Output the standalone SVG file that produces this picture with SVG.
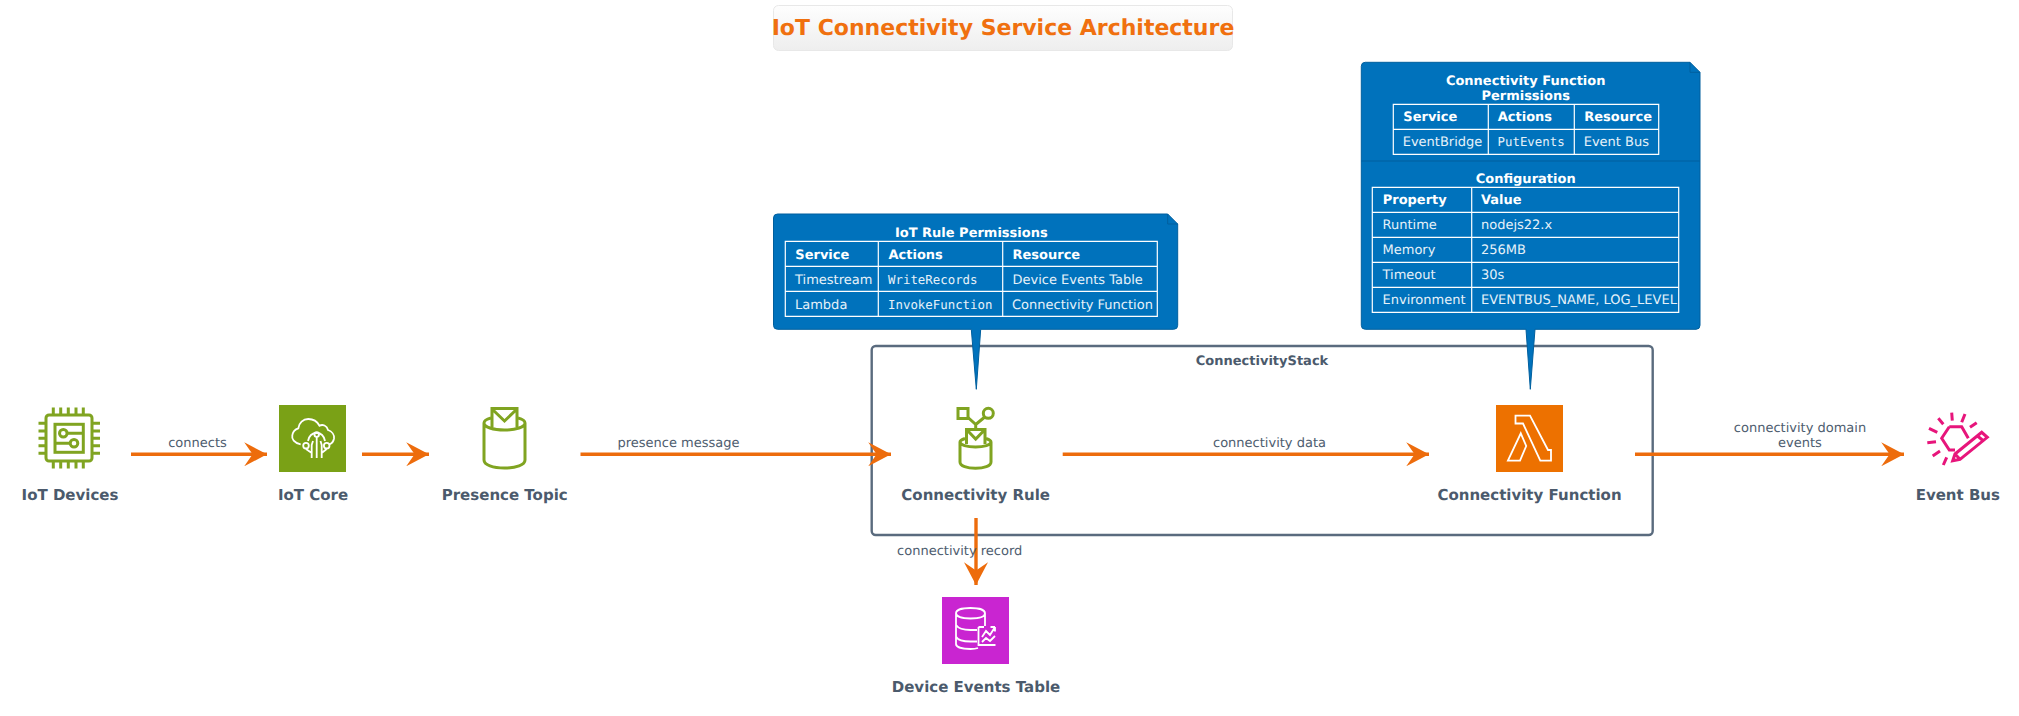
<svg xmlns="http://www.w3.org/2000/svg" width="2019" height="716" viewBox="0 0 2019 716">
<style>
text{font-family:"DejaVu Sans","Liberation Sans",sans-serif;text-rendering:geometricPrecision}
.lbl{font-size:15px;font-weight:700;fill:#4b5a6c;text-anchor:middle}
.edge{font-size:13px;fill:#4e5d6f;text-anchor:middle}
.cn{font-size:13px;font-weight:700;fill:#4b5a6c;text-anchor:middle}
.line{stroke:#ED6C0C;stroke-width:3.4;fill:none}
.note{fill:#0072BC;stroke:#005f9e;stroke-width:1}
.grid{fill:none;stroke:#fff;stroke-width:1.2}
.nt{font-size:13px;font-weight:700;fill:#fff;text-anchor:middle}
.th{font-size:13px;font-weight:700;fill:#fff}
.td{font-size:13px;fill:#e6f1f9}
.mono{font-family:"DejaVu Sans Mono","Liberation Mono",monospace;font-size:12.4px;fill:#e6f1f9}
.ig{fill:none;stroke:#80A421;stroke-width:3}
.iw{fill:none;stroke:#fff;stroke-width:1.8}
.ip{fill:none;stroke:#E7157B;stroke-width:3}
</style>
<defs>
<linearGradient id="tg" x1="0" y1="0" x2="0" y2="1"><stop offset="0" stop-color="#fefefe"/><stop offset="1" stop-color="#eeeeee"/></linearGradient>
<marker id="ah" markerUnits="userSpaceOnUse" markerWidth="24" markerHeight="24" refX="19" refY="10" orient="auto" viewBox="0 0 20 20"><path d="M0 0 L19 10 L0 20 L7 10 Z" fill="#ED6C0C"/></marker>
</defs>
<g id="title">
<rect x="773.5" y="5.5" width="459" height="45" rx="5" fill="url(#tg)" stroke="#e8e8e8"/>
<text x="1003" y="35" font-size="22" font-weight="700" fill="#F0700F" text-anchor="middle">IoT Connectivity Service Architecture</text>
</g>
<g id="ConnectivityStack">
<rect x="871.7" y="346" width="781" height="189" rx="4" fill="#fff" stroke="#5a6b7e" stroke-width="2.4"/>
<text class="cn" x="1262" y="365">ConnectivityStack</text>
</g>
<g id="connectors">
<path class="line" marker-end="url(#ah)" d="M131 454.3H267"/>
<path class="line" marker-end="url(#ah)" d="M362 454.3H429"/>
<path class="line" marker-end="url(#ah)" d="M580.5 454.3H891"/>
<path class="line" marker-end="url(#ah)" d="M1062.7 454.3H1429"/>
<path class="line" marker-end="url(#ah)" d="M1635 454.3H1904"/>
<path class="line" marker-end="url(#ah)" d="M976 518V585"/>
<text class="edge" x="197.500" y="447">connects</text>
<text class="edge" x="678.500" y="447">presence message</text>
<text class="edge" x="1269.500" y="447">connectivity data</text>
<text class="edge" x="1800" y="432">connectivity domain</text>
<text class="edge" x="1800" y="447">events</text>
<text class="edge" x="959.700" y="555">connectivity record</text>
</g>
<g id="note-rule">
<path class="note" d="M773.500 218a4 4 0 0 1 4-4H1167.700L1177.700 224V325.300a4 4 0 0 1-4 4H980.700L976.300 389.300L971.300 329.300H777.500a4 4 0 0 1-4-4Z"/>
<path d="M1167.700 214V224H1177.700" fill="none" stroke="#005f9e"/>
<text class="nt" x="971.300" y="237">IoT Rule Permissions</text>
<path class="grid" d="M785.300 241.300H1157.300V316.300H785.300ZM785.300 266.300H1157.300M785.300 291.300H1157.300M878.300 241.300V316.300M1002.700 241.300V316.300"/>
<text class="th" x="795.300" y="258.500">Service</text><text class="th" x="888.500" y="258.500">Actions</text><text class="th" x="1012.500" y="258.500">Resource</text>
<text class="td" x="795" y="283.500">Timestream</text><text class="mono" x="888" y="283.500">WriteRecords</text><text class="td" x="1012.500" y="283.500">Device Events Table</text>
<text class="td" x="795" y="308.500">Lambda</text><text class="mono" x="888" y="308.500">InvokeFunction</text><text class="td" x="1012" y="308.500">Connectivity Function</text>
</g>
<g id="note-function">
<path class="note" d="M1361.300 66.300a4 4 0 0 1 4-4H1690L1700 72.300V325.300a4 4 0 0 1-4 4H1535L1530.300 389.300L1526 329.300H1365.300a4 4 0 0 1-4-4Z"/>
<path d="M1690 62.300V72.300H1700M1361.300 161H1700" fill="none" stroke="#005f9e"/>
<text class="nt" x="1525.700" y="85">Connectivity Function</text>
<text class="nt" x="1525.700" y="99.500">Permissions</text>
<path class="grid" d="M1393.300 104.300H1658.700V154.300H1393.300ZM1393.300 129.300H1658.700M1488.300 104.300V154.300M1574.300 104.300V154.300"/>
<text class="th" x="1403.300" y="121">Service</text><text class="th" x="1497.700" y="121">Actions</text><text class="th" x="1584.300" y="121">Resource</text>
<text class="td" x="1402.700" y="146">EventBridge</text><text class="mono" x="1497.500" y="146">PutEvents</text><text class="td" x="1583.700" y="146">Event Bus</text>
<text class="nt" x="1525.700" y="182.500">Configuration</text>
<path class="grid" d="M1372.300 187.300H1678.700V312.300H1372.300ZM1372.300 212.300H1678.700M1372.300 237.300H1678.700M1372.300 262.300H1678.700M1372.300 287.300H1678.700M1471.700 187.300V312.300"/>
<text class="th" x="1382.700" y="204">Property</text><text class="th" x="1481" y="204">Value</text>
<text class="td" x="1382.500" y="229">Runtime</text><text class="td" x="1481" y="229">nodejs22.x</text>
<text class="td" x="1382.500" y="254">Memory</text><text class="td" x="1481" y="254">256MB</text>
<text class="td" x="1382.500" y="279">Timeout</text><text class="td" x="1481" y="279">30s</text>
<text class="td" x="1382.500" y="304">Environment</text><text class="td" x="1481" y="304">EVENTBUS_NAME, LOG_LEVEL</text>
</g>
<g id="iot-devices">
<rect class="ig" x="46" y="415" width="46" height="46" rx="3"/>
<path class="ig" d="M53.300 407.500V415M60.700 407.500V415M68.300 407.500V415M76 407.500V415M83.300 407.500V415M53.300 461V468.500M60.700 461V468.500M68.300 461V468.500M76 461V468.500M83.300 461V468.500M38.500 423.300H46M38.500 431H46M38.500 438.300H46M38.500 445.700H46M38.500 453.300H46M92 423.300H100M92 431H100M92 438.300H100M92 445.700H100M92 453.300H100"/>
<rect class="ig" x="55" y="424.300" width="28.300" height="28"/>
<circle class="ig" cx="63.300" cy="433.300" r="3.800"/><circle class="ig" cx="74" cy="443.300" r="3.800"/>
<path class="ig" d="M67 433.300H83M55 443.300H70"/>
<text class="lbl" x="70" y="500">IoT Devices</text>
</g>
<g id="iot-core">
<rect x="279" y="405" width="67" height="67" fill="#7AA116"/>
<path class="iw" d="M300.700 444.300C294 443 291.500 439 292.300 435C293 431 296 429 298.300 428.300C299 423 303 419 308.300 419C313.500 419 317.500 422 319.500 425.700C322.500 424 327 425.500 328 430C332 431.500 334.500 435 334 438.500C333.500 441.500 332 443.500 329.300 444.300"/>
<path class="iw" d="M308 441C309 436 312 433 316.700 433M325 441C324 436 321 433 316.700 433M306 449L311.700 453V458M326.700 449L321.700 453V458M316.700 437V458M313 441L311.700 445V458M320.500 441L321.700 445V458"/>
<circle class="iw" cx="316.700" cy="434.500" r="2.300"/><circle class="iw" cx="306" cy="445.700" r="2.800"/><circle class="iw" cx="326.700" cy="445.700" r="2.800"/>
<text class="lbl" x="313" y="500">IoT Core</text>
</g>
<g id="presence-topic">
<path class="ig" d="M484 423V460C484 465 493 468 504.500 468S525 465 525 460V423M484 423C484 427 493 430 504.500 430S525 427 525 423M484 423C484 421 487 419 491 418M525 423C525 421 522 419 518 418"/>
<path class="ig" d="M492 427V408.500H517V427M492 409L504.500 421L517 409"/>
<text class="lbl" x="504.700" y="500">Presence Topic</text>
</g>
<g id="connectivity-rule">
<path class="ig" d="M960 442V462C960 466 967 468.300 975.500 468.300S991 466 991 462V442M960 442C960 445 967 447 975.500 447S991 445 991 442M960 442C960 440.500 962 439.500 965 438.500M991 442C991 440.500 989 439.500 986 438.500"/>
<path class="ig" d="M966.500 444V429.500H985V444M967 430L975.700 439L984.500 430M975.700 429.500V424.500L968 417.500M975.700 424.500L984.800 417"/>
<rect class="ig" x="958" y="408.500" width="10" height="10"/><circle class="ig" cx="988.300" cy="413.300" r="5"/>
<text class="lbl" x="975.700" y="500">Connectivity Rule</text>
</g>
<g id="connectivity-function">
<rect x="1496" y="405" width="67" height="67" fill="#ED7100"/>
<path class="iw" d="M1515.500 415.700H1530L1548 450H1551V460.700H1540.300L1523 423.500H1515.500ZM1520.800 433.300L1526.200 446L1520 460.700H1507.900Z"/>
<text class="lbl" x="1529.500" y="500">Connectivity Function</text>
</g>
<g id="event-bus">
<path class="ip" d="M1949.300 426.700H1961.700L1968.300 438.300M1949.300 426.700L1941.700 438.300L1949.300 450H1955"/>
<path class="ip" d="M1952.700 460.700L1955 454L1981.700 432.300L1987.300 437.300L1960 459.300ZM1955 454L1960 459.300M1977.500 436L1983 440.500"/>
<path class="ip" d="M1951.700 412.700L1952.300 420.700M1938.300 418.300L1943.300 424.300M1965 414L1961.700 422.300M1976.700 422.700L1970 427.300M1929 428.300L1937.300 432.300M1927.300 442.700L1936 441.700M1932.700 456L1940 451M1943.300 465L1946.700 457.300"/>
<text class="lbl" x="1957.800" y="500">Event Bus</text>
</g>
<g id="device-events-table">
<rect x="942" y="597" width="67" height="67" fill="#C925D1"/>
<path class="iw" d="M956 613.300C956 610 962 608 970.500 608S985 610 985 613.300S979 618.500 970.500 618.500S956 616.500 956 613.300ZM956 613.300V644C956 647 962 649 970.500 649C973.500 649 976 648.700 978 648M985 613.300V626M956 625C958 628 963 630 970.500 630H977M956 636.700C958 640 963 641.500 970.500 641.500H977"/>
<path class="iw" d="M978.500 627H984M978.500 627V645H995.500M982 637L986 631L990 635L995 627M995 627H990.500M995 627V631.500M982 642L986 638L990 641L995 636"/>
<text class="lbl" x="976" y="692">Device Events Table</text>
</g>
</svg>
